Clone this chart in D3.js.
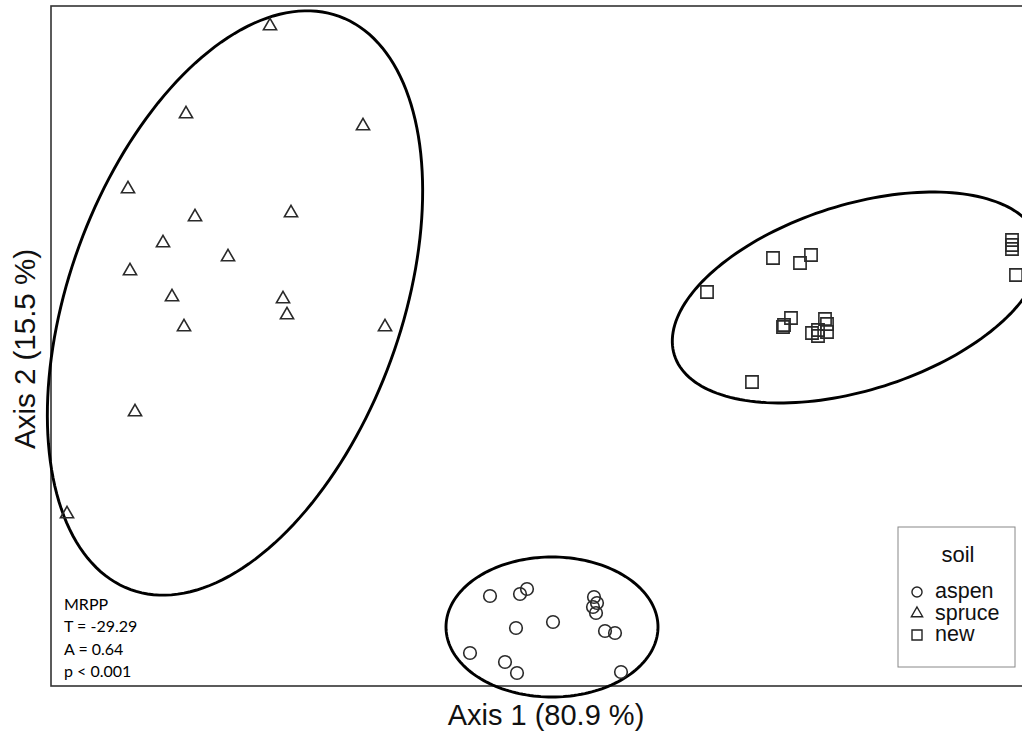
<!DOCTYPE html>
<html>
<head>
<meta charset="utf-8">
<script src="https://cdn.jsdelivr.net/npm/d3@7"></script>
<style>
  body { margin: 0; background: #fff; }
  text { font-family: "Liberation Sans", Arial, sans-serif; fill: #111; }
  .mrpp { font-family: Lato, "Open Sans", sans-serif; font-size: 16px; fill: #000; }
</style>
</head>
<body>
<div id="plot"></div>
<script>
// Ordination scores (Axis 1, Axis 2)
var aspenX = [-0.011, 0.019, 0.026, 0.093, 0.096, 0.092, 0.095, 0.015, 0.052, 0.104, 0.114, -0.031, 0.004, 0.016, 0.120];
var aspenY = [-0.250, -0.248, -0.243, -0.251, -0.257, -0.261, -0.267, -0.282, -0.276, -0.285, -0.287, -0.307, -0.316, -0.327, -0.326];

var spruceX = [-0.231, -0.315, -0.138, -0.373, -0.306, -0.210, -0.338, -0.273, -0.371, -0.329, -0.218, -0.214, -0.317, -0.116, -0.366, -0.434];
var spruceY = [0.320, 0.232, 0.220, 0.157, 0.129, 0.133, 0.103, 0.089, 0.075, 0.049, 0.047, 0.031, 0.019, 0.019, -0.066, -0.168];

var newX = [0.272, 0.299, 0.310, 0.206, 0.511, 0.511, 0.511, 0.515, 0.290, 0.283, 0.282, 0.324, 0.326, 0.326, 0.311, 0.317, 0.317, 0.251];
var newY = [0.088, 0.083, 0.091, 0.054, 0.106, 0.101, 0.097, 0.071, 0.028, 0.021, 0.019, 0.027, 0.022, 0.014, 0.013, 0.016, 0.010, -0.036];

// Group ellipses: centre x, centre y, semi-axis a, semi-axis b, angle (deg)
var ellipseNames = ["aspen", "spruce", "new"];
var ellipseCx = [0.051, -0.266, 0.3555];
var ellipseCy = [-0.281, 0.043, 0.0485];
var ellipseA = [0.106, 0.305, 0.191];
var ellipseB = [0.070, 0.166, 0.0926];
var ellipseAngle = [0, 70, 17.6];

var legendLabels = ["aspen", "spruce", "new"];
var statLines = ["MRPP", "T = -29.29", "A = 0.64", "p < 0.001"];

// SVG setup
var width = 1022;
var height = 735;

var svg = d3.select("#plot")
    .append("svg")
    .attr("width", width)
    .attr("height", height);

// Scales (equal units on both axes)
var xScale = d3.scaleLinear()
    .domain([-0.45, 0.54])
    .range([51, 1041]);

var yScale = d3.scaleLinear()
    .domain([-0.34, 0.34])
    .range([686, 6]);

// Plot frame (right side runs off the picture)
svg.append("rect")
    .attr("x", xScale(-0.45))
    .attr("y", yScale(0.34))
    .attr("width", xScale(0.54) - xScale(-0.45) + 20)
    .attr("height", yScale(-0.34) - yScale(0.34))
    .attr("fill", "none")
    .attr("stroke", "#333")
    .attr("stroke-width", 1.6);

// Ellipses
var line = d3.line()
    .x(function(d) { return xScale(d[0]); })
    .y(function(d) { return yScale(d[1]); })
    .curve(d3.curveLinearClosed);

ellipseNames.forEach(function(name, i) {
    var th = ellipseAngle[i] * Math.PI / 180;
    var pts = d3.range(0, 360, 2).map(function(deg) {
        var t = deg * Math.PI / 180;
        var ex = ellipseA[i] * Math.cos(t);
        var ey = ellipseB[i] * Math.sin(t);
        return [ellipseCx[i] + ex * Math.cos(th) - ey * Math.sin(th),
                ellipseCy[i] + ex * Math.sin(th) + ey * Math.cos(th)];
    });
    svg.append("path")
        .attr("class", "ellipse " + name)
        .attr("d", line(pts))
        .attr("fill", "none")
        .attr("stroke", "#000")
        .attr("stroke-width", 2.9);
});

// Points
function drawPoints(xs, ys, type, size) {
    var sym = d3.symbol().type(type).size(size);
    svg.append("g")
        .selectAll("path")
        .data(d3.zip(xs, ys))
        .enter()
        .append("path")
        .attr("d", sym)
        .attr("transform", function(d) {
            return "translate(" + xScale(d[0]) + "," + yScale(d[1]) + ")";
        })
        .attr("fill", "none")
        .attr("stroke", "#2a2a2a")
        .attr("stroke-width", 1.6);
}

drawPoints(aspenX, aspenY, d3.symbolCircle, 125);
drawPoints(spruceX, spruceY, d3.symbolTriangle, 75);
drawPoints(newX, newY, d3.symbolSquare, 150);

// Axis titles
svg.append("text")
    .attr("x", 546)
    .attr("y", 725)
    .attr("text-anchor", "middle")
    .attr("font-size", 29)
    .text("Axis 1 (80.9 %)");

svg.append("text")
    .attr("transform", "translate(35, 349)rotate(-90)")
    .attr("text-anchor", "middle")
    .attr("font-size", 29.5)
    .text("Axis 2 (15.5 %)");

// MRPP statistics
svg.append("g")
    .selectAll("text")
    .data(statLines)
    .enter()
    .append("text")
    .attr("class", "mrpp")
    .attr("x", 64)
    .attr("y", function(d, i) { return 610 + i * 22.3; })
    .text(function(d) { return d; });

// Legend
var legend = svg.append("g")
    .attr("transform", "translate(898, 527)");

legend.append("rect")
    .attr("width", 117)
    .attr("height", 140)
    .attr("fill", "#fff")
    .attr("stroke", "#888")
    .attr("stroke-width", 1);

legend.append("text")
    .attr("x", 60)
    .attr("y", 35)
    .attr("text-anchor", "middle")
    .attr("font-size", 22)
    .text("soil");

var legendTypes = [d3.symbolCircle, d3.symbolTriangle, d3.symbolSquare];
var legendSizes = [80, 55, 100];

legendLabels.forEach(function(lab, i) {
    legend.append("path")
        .attr("d", d3.symbol().type(legendTypes[i]).size(legendSizes[i]))
        .attr("transform", "translate(19," + (65 + i * 21.5) + ")")
        .attr("fill", "none")
        .attr("stroke", "#222")
        .attr("stroke-width", 1.4);
    legend.append("text")
        .attr("x", 37)
        .attr("y", 71 + i * 21.5)
        .attr("font-size", 21.5)
        .text(lab);
});
</script>
</body>
</html>
